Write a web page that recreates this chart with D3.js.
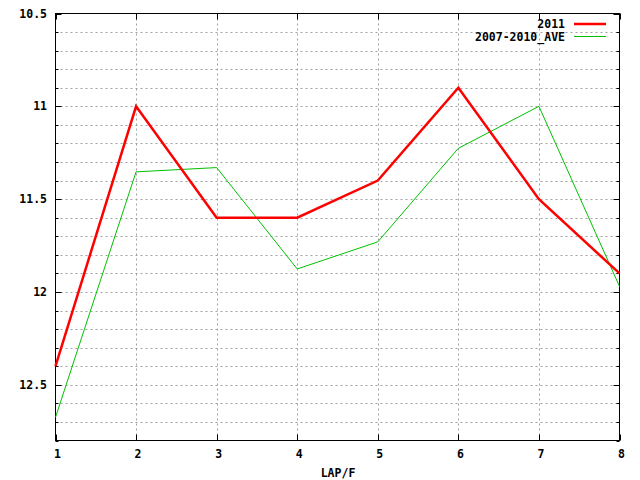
<!DOCTYPE html>
<html>
<head>
<meta charset="utf-8">
<script src="https://cdn.jsdelivr.net/npm/d3@7"></script>
<style>
body { margin: 0; background: #fff; }
text { font-family: "DejaVu Sans Mono", monospace; font-weight: bold; font-size: 11.5px; fill: #000; }
</style>
</head>
<body>
<script>
var laps = [1, 2, 3, 4, 5, 6, 7, 8];
var series2011 = [12.40, 11.0, 11.6, 11.6, 11.4, 10.9, 11.5, 11.9];
var seriesAve = [12.675, 11.353, 11.33, 11.876, 11.73, 11.226, 11.0, 11.97];
var seriesNames = ["2011", "2007-2010_AVE"];
var yMajor = [10.5, 11, 11.5, 12, 12.5];

var W = 640, H = 480;
var plotLeft = 55.5, plotRight = 619.5, plotTop = 13.5, plotBottom = 440.5;

var svg = d3.select("body").append("svg")
    .attr("width", W)
    .attr("height", H);

var x = d3.scaleLinear().domain([1, 8]).range([plotLeft, plotRight]);
var y = d3.scaleLinear().domain([10.5, 12.8]).range([plotTop, plotBottom]);

var yMinor = d3.range(0, 24).map(function(i) { return Math.round((10.5 + i * 0.1) * 10) / 10; });

// grid
var grid = svg.append("g");
grid.selectAll("line.h").data(yMinor.filter(function(d) { return d > 10.5 && d < 12.8; }))
    .enter().append("line")
    .attr("x1", plotLeft).attr("x2", plotRight)
    .attr("y1", function(d) { return Math.round(y(d)) + 0.5; })
    .attr("y2", function(d) { return Math.round(y(d)) + 0.5; })
    .attr("stroke", "#a0a0a0").attr("stroke-dasharray", "2,3");
grid.selectAll("line.v").data(laps.slice(1, -1))
    .enter().append("line")
    .attr("y1", plotTop).attr("y2", plotBottom)
    .attr("x1", function(d) { return Math.round(x(d)) + 0.5; })
    .attr("x2", function(d) { return Math.round(x(d)) + 0.5; })
    .attr("stroke", "#a0a0a0").attr("stroke-dasharray", "2,3");

// ticks
var ticks = svg.append("g").attr("stroke", "#000");
yMinor.forEach(function(d) {
    var major = yMajor.indexOf(d) >= 0;
    var len = major ? 6 : 3;
    var yy = Math.round(y(d)) + 0.5;
    ticks.append("line").attr("x1", plotLeft).attr("x2", plotLeft + len).attr("y1", yy).attr("y2", yy);
    ticks.append("line").attr("x1", plotRight).attr("x2", plotRight - len).attr("y1", yy).attr("y2", yy);
});
laps.forEach(function(d) {
    var xx = Math.round(x(d)) + 0.5;
    ticks.append("line").attr("x1", xx).attr("x2", xx).attr("y1", plotBottom).attr("y2", plotBottom - 6);
    ticks.append("line").attr("x1", xx).attr("x2", xx).attr("y1", plotTop).attr("y2", plotTop + 6);
});

// border
svg.append("rect")
    .attr("x", plotLeft).attr("y", plotTop)
    .attr("width", plotRight - plotLeft).attr("height", plotBottom - plotTop)
    .attr("fill", "none").attr("stroke", "#000");

// tick labels
svg.selectAll("text.yl").data(yMajor).enter().append("text")
    .attr("x", 47).attr("y", function(d) { return y(d) + 4; })
    .attr("text-anchor", "end")
    .text(function(d) { return d; });
svg.selectAll("text.xl").data(laps).enter().append("text")
    .attr("x", function(d) { return x(d) + 2; }).attr("y", 458)
    .attr("text-anchor", "middle")
    .text(function(d) { return d; });
svg.append("text").attr("x", 338).attr("y", 477).attr("text-anchor", "middle").text("LAP/F");

// lines
var line = d3.line()
    .x(function(d, i) { return x(laps[i]); })
    .y(function(d) { return y(d); });

svg.append("path").datum(seriesAve)
    .attr("d", line).attr("fill", "none")
    .attr("stroke", "#00c000").attr("stroke-width", 1);
svg.append("path").datum(series2011)
    .attr("d", line).attr("fill", "none")
    .attr("stroke", "#ff0000").attr("stroke-width", 2.5);

// legend
svg.append("text").attr("x", 565).attr("y", 28).attr("text-anchor", "end").text(seriesNames[0]);
svg.append("line").attr("x1", 574).attr("x2", 606).attr("y1", 24).attr("y2", 24)
    .attr("stroke", "#ff0000").attr("stroke-width", 2.5);
svg.append("text").attr("x", 565).attr("y", 40.5).attr("text-anchor", "end").text(seriesNames[1]);
svg.append("line").attr("x1", 574).attr("x2", 606).attr("y1", 36.5).attr("y2", 36.5)
    .attr("stroke", "#00c000").attr("stroke-width", 1);
</script>
</body>
</html>
